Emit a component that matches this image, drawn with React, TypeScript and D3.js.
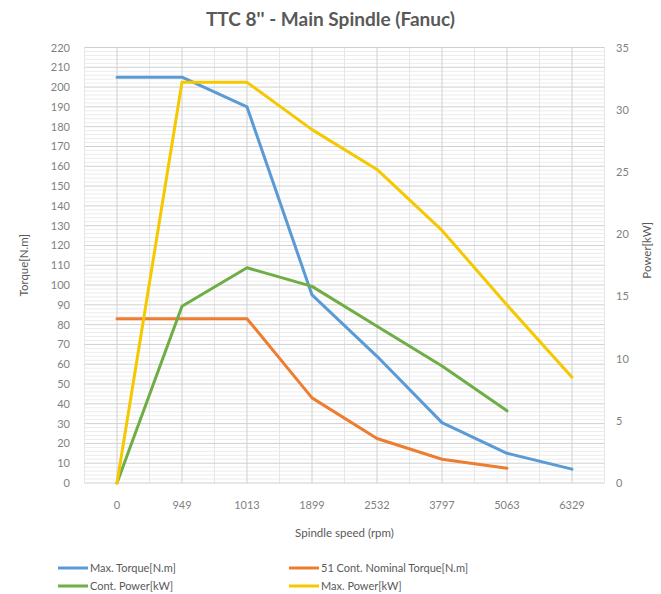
import React from "react";
import * as d3 from "d3";

const categories = ["0", "949", "1013", "1899", "2532", "3797", "5063", "6329"];
const maxTorque: (number | null)[] = [205, 205, 190, 95, 64, 30.5, 15, 7];
const contTorque: (number | null)[] = [83, 83, 83, 43, 22.5, 12, 7.5, null];
const contPower: (number | null)[] = [0, 14.2, 17.3, 15.8, 12.6, 9.4, 5.8, null];
const maxPower: (number | null)[] = [0, 32.2, 32.2, 28.4, 25.2, 20.3, 14.3, 8.5];
const leftTicks = d3.range(0, 221, 10);
const rightTicks = [0, 5, 10, 15, 20, 25, 30, 35];

const W = 661;
const H = 594;
const L = 84.5, R = 604.5, T = 47.5, B = 483;
const FONT = "Lato, 'Open Sans', sans-serif";

export default function App() {
  const x = d3.scalePoint<string>().domain(categories).range([L, R]).padding(0.5);
  const yL = d3.scaleLinear().domain([0, 220]).range([B, T]);
  const yR = d3.scaleLinear().domain([0, 35]).range([B, T]);
  const step = x.step();

  const mk = (vals: (number | null)[], sc: d3.ScaleLinear<number, number>) =>
    d3
      .line<number | null>()
      .defined((d) => d !== null)
      .x((_, i) => x(categories[i]) as number)
      .y((d) => sc(d as number))(vals) || "";

  const series = [
    { name: "Max. Torque[N.m]", vals: maxTorque, sc: yL, color: "#5b9bd5" },
    { name: "51 Cont. Nominal Torque[N.m]", vals: contTorque, sc: yL, color: "#ed7d31" },
    { name: "Cont. Power[kW]", vals: contPower, sc: yR, color: "#70ad47" },
    { name: "Max. Power[kW]", vals: maxPower, sc: yR, color: "#f5c800" },
  ];

  const minorY = d3.range(0, 221, 2).filter((v) => v % 10 !== 0);
  const bounds = d3.range(0, categories.length + 1).map((i) => L + i * step);

  const legendPos = [
    { x: 58, y: 568 },
    { x: 289, y: 568 },
    { x: 58, y: 586 },
    { x: 289, y: 586 },
  ];

  return (
    <svg
      width={W}
      height={H}
      style={{ position: "absolute", left: 0, top: 0, background: "#fff", overflow: "hidden" }}
      fontFamily={FONT}
    >
      <rect x={0} y={0} width={W} height={H} fill="#fff" />
      {/* minor grid */}
      {minorY.map((v) => (
        <line key={"mh" + v} x1={L} x2={R} y1={yL(v)} y2={yL(v)} stroke="#ececec" strokeWidth={1} />
      ))}
      {bounds.map((bx, i) => (
        <line key={"mv" + i} x1={bx} x2={bx} y1={T} y2={B} stroke="#e6e6e6" strokeWidth={1} />
      ))}
      {/* major grid */}
      {leftTicks.map((v) => (
        <line key={"h" + v} x1={L} x2={R} y1={yL(v)} y2={yL(v)} stroke="#d0d0d0" strokeWidth={1} />
      ))}
      {categories.map((c) => (
        <line key={"v" + c} x1={x(c)} x2={x(c)} y1={T} y2={B} stroke="#d0d0d0" strokeWidth={1} />
      ))}

      {/* title */}
      <text x={330.5} y={26} textAnchor="middle" fontSize={19} fontWeight="bold" fill="#595959">
        TTC 8'' - Main Spindle (Fanuc)
      </text>

      {/* axes labels */}
      {leftTicks.map((v) => (
        <text key={"lt" + v} x={70} y={yL(v) + 4} textAnchor="end" fontSize={11} fill="#7f7f7f">
          {v}
        </text>
      ))}
      {rightTicks.map((v) => (
        <text key={"rt" + v} x={616} y={yR(v) + 4} textAnchor="start" fontSize={11} fill="#7f7f7f">
          {v}
        </text>
      ))}
      {categories.map((c) => (
        <text key={"xt" + c} x={x(c)} y={509} textAnchor="middle" fontSize={11} fill="#7f7f7f">
          {c}
        </text>
      ))}
      <text
        transform={`translate(28,${(T + B) / 2}) rotate(-90)`}
        textAnchor="middle"
        fontSize={11.5}
        fill="#595959"
      >
        Torque[N.m]
      </text>
      <text
        transform={`translate(651,${(T + B) / 2 - 15}) rotate(-90)`}
        textAnchor="middle"
        fontSize={11.5}
        fill="#595959"
      >
        Power[kW]
      </text>
      <text x={(L + R) / 2} y={537} textAnchor="middle" fontSize={11.5} fill="#595959">
        Spindle speed (rpm)
      </text>

      {/* series */}
      {series.map((s) => (
        <path
          key={s.name}
          d={mk(s.vals, s.sc)}
          fill="none"
          stroke={s.color}
          strokeWidth={3}
          strokeLinejoin="round"
          strokeLinecap="round"
        />
      ))}

      {/* legend */}
      {series.map((s, i) => (
        <g key={"lg" + i} transform={`translate(${legendPos[i].x},${legendPos[i].y})`}>
          <line x1={0} x2={30} y1={0} y2={0} stroke={s.color} strokeWidth={3} />
          <text x={32} y={4} fontSize={11} fill="#595959">
            {s.name}
          </text>
        </g>
      ))}
    </svg>
  );
}
